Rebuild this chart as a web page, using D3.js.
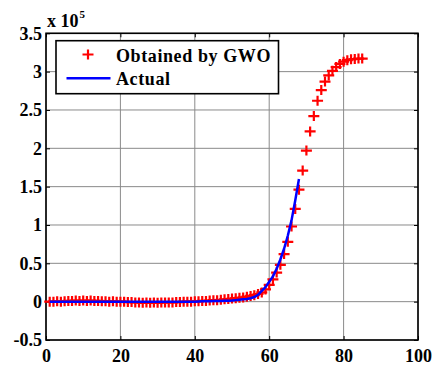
<!DOCTYPE html>
<html><head><meta charset="utf-8">
<script src="https://cdn.jsdelivr.net/npm/d3@7"></script>
<style>
html,body{margin:0;padding:0;background:#fff;}
svg{display:block;}
</style></head>
<body>
<script>
// Day index of GWO estimates
const gwoDays = d3.range(1, 86);
// Obtained by GWO (cases)
const gwoValues = [
  0, 0, 500, 0, 500, 1000, 1000, 1500, 1000, 1500,
  1000, 1500, 1000, 1000, 500, 500, 0, 500, 0, 0,
  0, -500, -500, -1000, -1000, -1500, -1000, -1500, -1000, -1500,
  -1000, -1000, -1000, -1000, -500, -500, 0, 0, 0, 500,
  500, 1000, 1000, 1500, 2000, 2000, 2500, 3000, 3500, 4000,
  4500, 5000, 5500, 6500, 7500, 8500, 10000, 12000, 16000, 22000,
  29000, 38000, 48000, 62000, 78000, 98000, 121000, 146000, 171000, 197000,
  222000, 242000, 262000, 276000, 287000, 295000, 301000, 306000, 310000, 313000,
  315000, 316000, 316500, 317000, 317000
];
// Actual (cases)
const actualDays = d3.range(1, 69);
const actualValues = [
  0, 0, 0, 0, 0, 0, 0, 0, 0, 0,
  0, 0, 0, 0, 0, 0, 0, 0, 0, 0,
  0, 0, 0, 0, 0, 0, 0, 0, 0, 0,
  0, 0, 0, 0, 0, 0, 0, 0, 0, 0,
  200, 400, 500, 600, 800, 900, 1000, 1100, 1200, 1500,
  2000, 2500, 3000, 3500, 4500, 6000, 9000, 14000, 19000, 26000,
  33000, 43000, 55000, 69000, 86000, 106000, 132000, 160000
];
const xTicks = [0, 20, 40, 60, 80, 100];
const yTicks = [-50000, 0, 50000, 100000, 150000, 200000, 250000, 300000, 350000];
const legendLabels = ["Obtained by GWO", "Actual"];

const W = 434, H = 365;
const FONT = "'Times New Roman', 'Liberation Serif', serif";
const svg = d3.select("body").append("svg").attr("width", W).attr("height", H);

const x = d3.scaleLinear().domain([0, 100]).range([46, 418]);
const y = d3.scaleLinear().domain([-50000, 350000]).range([340, 33.3]);

// grid
const grid = svg.append("g").attr("stroke", "#8a8a8a").attr("stroke-width", 1);
grid.selectAll("line.gx").data(xTicks).join("line")
  .attr("x1", d => x(d)).attr("x2", d => x(d))
  .attr("y1", y.range()[1]).attr("y2", y.range()[0]);
grid.selectAll("line.gy").data(yTicks).join("line")
  .attr("y1", d => y(d)).attr("y2", d => y(d))
  .attr("x1", x.range()[0]).attr("x2", x.range()[1]);

// axes
const fmtY = d => String(+(d / 1e5).toFixed(1));
const ax = svg.append("g");
ax.append("g").attr("transform", `translate(${x.range()[0]},0)`)
  .call(d3.axisLeft(y).tickValues(yTicks).tickSizeInner(-4).tickSizeOuter(0).tickPadding(4).tickFormat(fmtY));
ax.append("g").attr("transform", `translate(0,${y.range()[0]})`)
  .call(d3.axisBottom(x).tickValues(xTicks).tickSizeInner(-4).tickSizeOuter(0).tickPadding(9).tickFormat(d3.format("d")));
ax.append("g").attr("transform", `translate(${x.range()[1]},0)`)
  .call(d3.axisRight(y).tickValues(yTicks).tickSizeInner(-4).tickSizeOuter(0).tickFormat(""));
ax.append("g").attr("transform", `translate(0,${y.range()[1]})`)
  .call(d3.axisTop(x).tickValues(xTicks).tickSizeInner(-4).tickSizeOuter(0).tickFormat(""));
ax.selectAll(".domain").remove();
ax.selectAll(".tick line").attr("stroke", "#000").attr("stroke-width", 1);
ax.selectAll("g").attr("font-family", FONT).attr("font-size", 18);
ax.selectAll("text")
  .style("font-family", FONT).style("font-weight", "bold").style("font-size", "18px").attr("fill", "#000");

// frame
svg.append("rect")
  .attr("x", x.range()[0]).attr("y", y.range()[1])
  .attr("width", x.range()[1] - x.range()[0]).attr("height", y.range()[0] - y.range()[1])
  .attr("fill", "none").attr("stroke", "#000").attr("stroke-width", 1.6);

// exponent label
const expo = svg.append("text").attr("x", 47).attr("y", 26.5)
  .style("font-family", FONT).style("font-weight", "bold").style("font-size", "18px");
expo.append("tspan").text("x 10");
expo.append("tspan").style("font-size", "11px").attr("dy", -9).attr("dx", 1).text("5");

const plus = "M-5.5,0H5.5M0,-5V5";
// GWO markers
svg.append("g").selectAll("path").data(gwoDays).join("path")
  .attr("d", plus)
  .attr("transform", (d, i) => `translate(${x(d)},${y(gwoValues[i])})`)
  .attr("stroke", "#ff0000").attr("stroke-width", 2.2).attr("fill", "none");

// Actual line
const line = d3.line().x(d => x(d[0])).y(d => y(d[1]));
svg.append("path")
  .datum(actualDays.map((d, i) => [d, actualValues[i]]))
  .attr("d", line).attr("fill", "none").attr("stroke", "#0000ff").attr("stroke-width", 2.5)
  .attr("stroke-linejoin", "round");

// legend
const lg = svg.append("g");
lg.append("rect").attr("x", 56).attr("y", 40.7).attr("width", 222.5).attr("height", 53)
  .attr("fill", "#fff").attr("stroke", "#000").attr("stroke-width", 1.6);
lg.append("path").attr("d", plus).attr("transform", "translate(88,54.5)")
  .attr("stroke", "#ff0000").attr("stroke-width", 2.2).attr("fill", "none");
lg.append("line").attr("x1", 66.5).attr("x2", 110.5).attr("y1", 78.3).attr("y2", 78.3)
  .attr("stroke", "#0000ff").attr("stroke-width", 2.5);
lg.selectAll("text").data(legendLabels).join("text")
  .attr("x", 116).attr("y", (d, i) => i === 0 ? 61.5 : 85)
  .style("font-family", FONT).style("font-weight", "bold").style("font-size", "18px")
  .attr("letter-spacing", 0.6).text(d => d);
</script>
</body></html>
